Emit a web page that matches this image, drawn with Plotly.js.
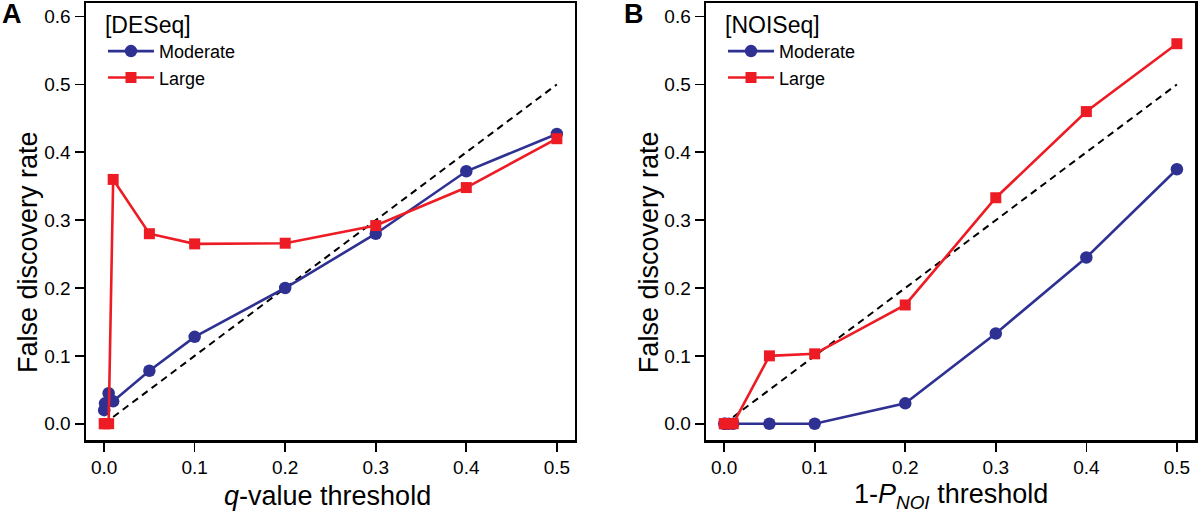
<!DOCTYPE html>
<html><head><meta charset="utf-8">
<script src="https://cdn.plot.ly/plotly-3.0.1.min.js"></script>
<style>html,body{margin:0;padding:0;background:#fff}#chart{width:1200px;height:512px}</style>
</head><body><div id="chart"></div>
<script>
// thresholds
const thresholds = [0.0001, 0.001, 0.005, 0.01, 0.05, 0.1, 0.2, 0.3, 0.4, 0.5];
// DESeq (panel A)
const deseqModerate = [0.02, 0.03, 0.045, 0.033, 0.078, 0.128, 0.2, 0.28, 0.372, 0.427];
const deseqLarge    = [0, 0, 0, 0.36, 0.28, 0.265, 0.266, 0.292, 0.348, 0.42];
// NOISeq (panel B)
const noiseqModerate = [0, 0, 0, 0, 0, 0, 0.03, 0.133, 0.245, 0.375];
const noiseqLarge    = [0, 0, 0, 0, 0.1, 0.103, 0.175, 0.333, 0.46, 0.56];
// identity reference line
const refX = [0.01, 0.5];
const refY = [0.01, 0.5];
const yTickVals = [0, 0.1, 0.2, 0.3, 0.4, 0.5, 0.6];
const xTickVals = [0, 0.1, 0.2, 0.3, 0.4, 0.5];

const BLUE = '#2e3192', RED = '#ed1c24';
const FONT = 'Liberation Sans, Arial, Helvetica, sans-serif';

function panel(xa, ya, mod, lrg, leg) {
  return [
    {x: refX, y: refY, xaxis: xa, yaxis: ya, mode: 'lines', showlegend: false,
     line: {color: '#000', width: 2, dash: '7px,5px'}, hoverinfo: 'skip'},
    {x: thresholds, y: mod, xaxis: xa, yaxis: ya, mode: 'lines+markers', name: 'Moderate', legend: leg,
     line: {color: BLUE, width: 2.6}, marker: {symbol: 'circle', size: 12.5, color: BLUE}},
    {x: thresholds, y: lrg, xaxis: xa, yaxis: ya, mode: 'lines+markers', name: 'Large', legend: leg,
     line: {color: RED, width: 2.6}, marker: {symbol: 'square', size: 11, color: RED}}
  ];
}

const data = [].concat(
  panel('x', 'y', deseqModerate, deseqLarge, 'legend'),
  panel('x2', 'y2', noiseqModerate, noiseqLarge, 'legend2')
);

function axBase() {
  return {showgrid: false, zeroline: false,
    showline: true, mirror: true, linecolor: '#000', linewidth: 2.5,
    ticks: 'outside', ticklen: 9, tickwidth: 1.6, tickcolor: '#000',
    tickfont: {family: FONT, size: 19, color: '#000'}};
}
function xax(domain, anchor) {
  return Object.assign(axBase(), {domain: domain, anchor: anchor, range: [-0.02, 0.52],
    tickvals: xTickVals, ticktext: xTickVals.map(v => v.toFixed(1))});
}
function yax(anchor) {
  return Object.assign(axBase(), {domain: [0, 1], anchor: anchor, range: [-0.024, 0.62],
    tickvals: yTickVals, ticktext: yTickVals.map(v => v.toFixed(1))});
}

const legendBase = {
  bgcolor: 'rgba(0,0,0,0)', borderwidth: 0, xanchor: 'left', yanchor: 'top',
  font: {family: FONT, size: 18, color: '#000'}, tracegroupgap: 0, itemwidth: 46,
};

const layout = {
  width: 1200, height: 512,
  margin: {l: 86, r: 5, t: 3, b: 72},
  paper_bgcolor: '#fff', plot_bgcolor: '#fff',
  font: {family: FONT, color: '#000'},
  xaxis: xax([0, 0.4409], 'y'),
  yaxis: yax('x'),
  xaxis2: xax([0.5591, 1], 'y2'),
  yaxis2: yax('x2'),
  legend: Object.assign({}, legendBase, {x: 0.0153, y: 1.0,
    title: {text: '[DESeq]', font: {family: FONT, size: 23, color: '#000'}}}),
  legend2: Object.assign({}, legendBase, {x: 0.5744, y: 1.0,
    title: {text: '[NOISeq]', font: {family: FONT, size: 23, color: '#000'}}}),
  annotations: [
    {text: '<b>A</b>', xref: 'paper', yref: 'paper', x: -0.0663, y: 1.014, xanchor: 'center', yanchor: 'top',
     showarrow: false, font: {family: FONT, size: 27, color: '#000'}},
    {text: '<b>B</b>', xref: 'paper', yref: 'paper', x: 0.494, y: 1.014, xanchor: 'center', yanchor: 'top',
     showarrow: false, font: {family: FONT, size: 27, color: '#000'}},
    {text: 'False discovery rate', xref: 'paper', yref: 'paper', x: -0.0523, y: 0.43, textangle: -90,
     xanchor: 'center', yanchor: 'middle', showarrow: false, font: {family: FONT, size: 27, color: '#000'}},
    {text: 'False discovery rate', xref: 'paper', yref: 'paper', x: 0.5077, y: 0.43, textangle: -90,
     xanchor: 'center', yanchor: 'middle', showarrow: false, font: {family: FONT, size: 27, color: '#000'}},
    {text: '<i>q</i>-value threshold', xref: 'paper', yref: 'paper', x: 0.218, y: -0.128,
     xanchor: 'center', yanchor: 'middle', showarrow: false, font: {family: FONT, size: 27, color: '#000'}},
    {text: '1-<i>P</i><sub><i>NOI</i></sub> threshold', xref: 'paper', yref: 'paper', x: 0.78, y: -0.128,
     xanchor: 'center', yanchor: 'middle', showarrow: false, font: {family: FONT, size: 27, color: '#000'}}
  ]
};

Plotly.newPlot('chart', data, layout, {displayModeBar: false, staticPlot: true});
</script></body></html>
